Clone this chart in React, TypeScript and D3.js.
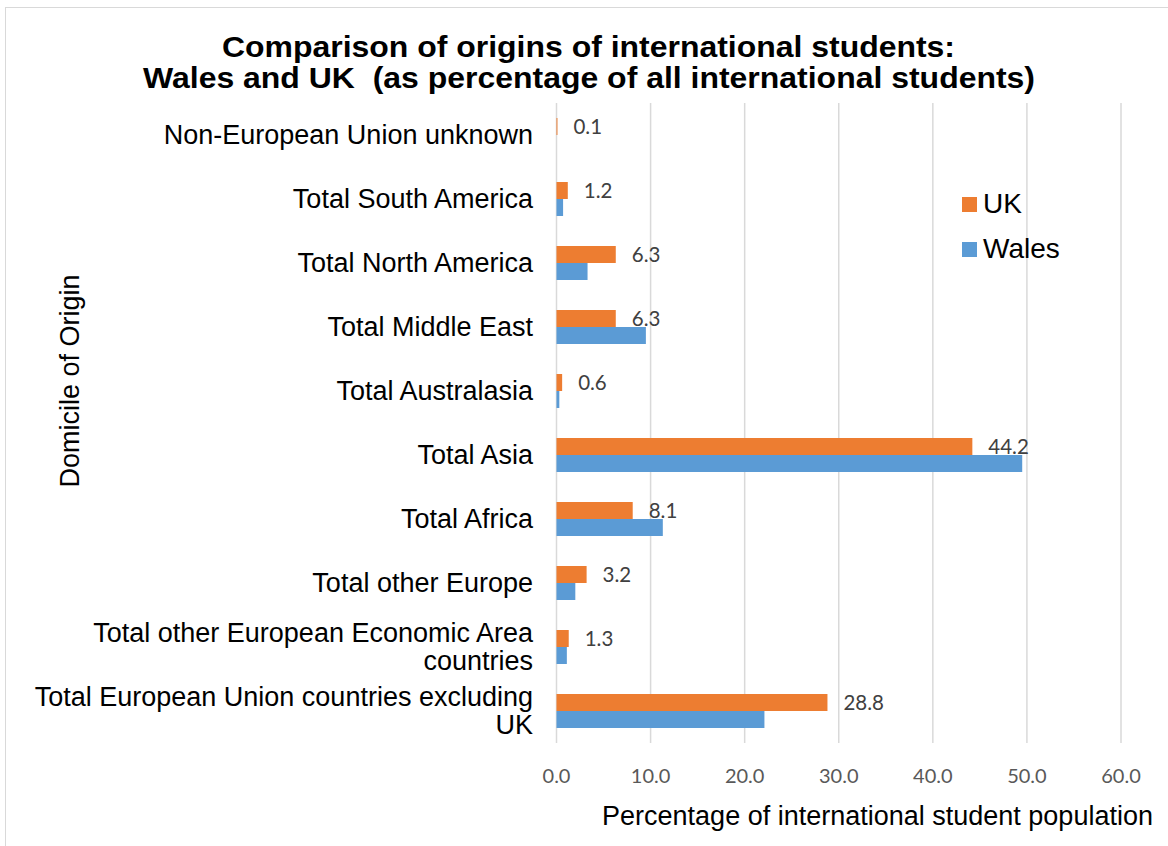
import React from "react";
import * as d3 from "d3";

// Domicile groups, listed top to bottom as drawn
const categories: string[][] = [
  ["Non-European Union unknown"],
  ["Total South America"],
  ["Total North America"],
  ["Total Middle East"],
  ["Total Australasia"],
  ["Total Asia"],
  ["Total Africa"],
  ["Total other Europe"],
  ["Total other European Economic Area", "countries"],
  ["Total European Union countries excluding", "UK"],
];

// Share of all international students (%)
const ukValues = [0.1, 1.2, 6.3, 6.3, 0.6, 44.2, 8.1, 3.2, 1.3, 28.8];
const walesValues = [0.0, 0.7, 3.3, 9.5, 0.3, 49.5, 11.3, 2.0, 1.1, 22.1];

const seriesNames = ["UK", "Wales"];
const seriesColors = ["#ED7D31", "#5B9BD5"];
const xTicks = [0, 10, 20, 30, 40, 50, 60];

const W = 1168;
const H = 846;
const plot = { left: 556.5, right: 1121, top: 103, bottom: 743 };

export default function App() {
  const x = d3.scaleLinear().domain([0, 60]).range([plot.left, plot.right]);
  const keys = categories.map((c) => c.join(" "));
  const y = d3
    .scaleBand<string>()
    .domain(keys)
    .range([plot.top, plot.bottom])
    .paddingInner(30 / 64)
    .paddingOuter(15 / 64);
  const sub = d3.scaleBand<string>().domain(seriesNames).range([0, y.bandwidth()]);
  const fmt = d3.format(".1f");
  const series = [ukValues, walesValues];

  const catFont = "'Liberation Sans', Arial, sans-serif";
  const numFont = "Lato, 'Open Sans', sans-serif";

  return (
    <svg
      width={W}
      height={H}
      style={{ position: "absolute", left: 0, top: 0, background: "#fff" }}
    >
      <rect x={5.5} y={7.5} width={W + 10} height={H + 10} fill="#fff" stroke="#d9d9d9" strokeWidth={1} />

      {/* title */}
      <text
        textAnchor="middle"
        fontFamily={catFont}
        fontWeight="bold"
        fontSize={29}
        fill="#000"
        style={{ whiteSpace: "pre" }}
      >
        <tspan x={588.5} y={57} textLength={733} lengthAdjust="spacingAndGlyphs">
          Comparison of origins of international students:
        </tspan>
        <tspan x={589} y={88} textLength={892} lengthAdjust="spacingAndGlyphs">
          {"Wales and UK  (as percentage of all international students)"}
        </tspan>
      </text>

      {/* vertical gridlines */}
      {xTicks.map((t) => (
        <line
          key={t}
          x1={x(t)}
          x2={x(t)}
          y1={plot.top}
          y2={plot.bottom}
          stroke="#d9d9d9"
          strokeWidth={1.5}
        />
      ))}

      {/* bars */}
      {series.map((vals, si) =>
        vals.map((v, i) => (
          <rect
            key={`${si}-${i}`}
            x={x(0)}
            y={(y(keys[i]) as number) + (sub(seriesNames[si]) as number)}
            width={Math.max(0, x(v) - x(0))}
            height={sub.bandwidth()}
            fill={seriesColors[si]}
          />
        ))
      )}

      {/* UK value labels */}
      {ukValues.map((v, i) => (
        <text
          key={`l${i}`}
          x={x(v) + 16}
          y={(y(keys[i]) as number) + (sub("UK") as number) + sub.bandwidth() / 2}
          dy="0.36em"
          fontFamily={numFont}
          fontSize={20.5}
          fill="#404040"
        >
          {fmt(v)}
        </text>
      ))}

      {/* category labels */}
      {categories.map((lines, i) => {
        const cy = (y(keys[i]) as number) + y.bandwidth() / 2;
        const lh = 28;
        const start = cy - ((lines.length - 1) * lh) / 2;
        return (
          <text
            key={`c${i}`}
            textAnchor="end"
            fontFamily={catFont}
            fontSize={27}
            fill="#000"
          >
            {lines.map((ln, j) => (
              <tspan key={j} x={533} y={start + j * lh} dy="0.33em">
                {ln}
              </tspan>
            ))}
          </text>
        );
      })}

      {/* x tick labels */}
      {xTicks.map((t) => (
        <text
          key={`t${t}`}
          x={x(t)}
          y={783}
          textAnchor="middle"
          fontFamily={numFont}
          fontSize={20}
          fill="#595959"
        >
          {fmt(t)}
        </text>
      ))}

      {/* axis titles */}
      <text
        x={877.5}
        y={825}
        textAnchor="middle"
        fontFamily={catFont}
        fontSize={27}
        fill="#000"
      >
        Percentage of international student population
      </text>
      <text
        transform={`translate(79,381) rotate(-90)`}
        textAnchor="middle"
        fontFamily={catFont}
        fontSize={27}
        fill="#000"
      >
        Domicile of Origin
      </text>

      {/* legend */}
      {seriesNames.map((s, i) => (
        <g key={s} transform={`translate(962,${197 + i * 45})`}>
          <rect width={15} height={15} fill={seriesColors[i]} />
          <text x={21} y={15.5} fontFamily={catFont} fontSize={28} fill="#000">
            {s}
          </text>
        </g>
      ))}
    </svg>
  );
}
